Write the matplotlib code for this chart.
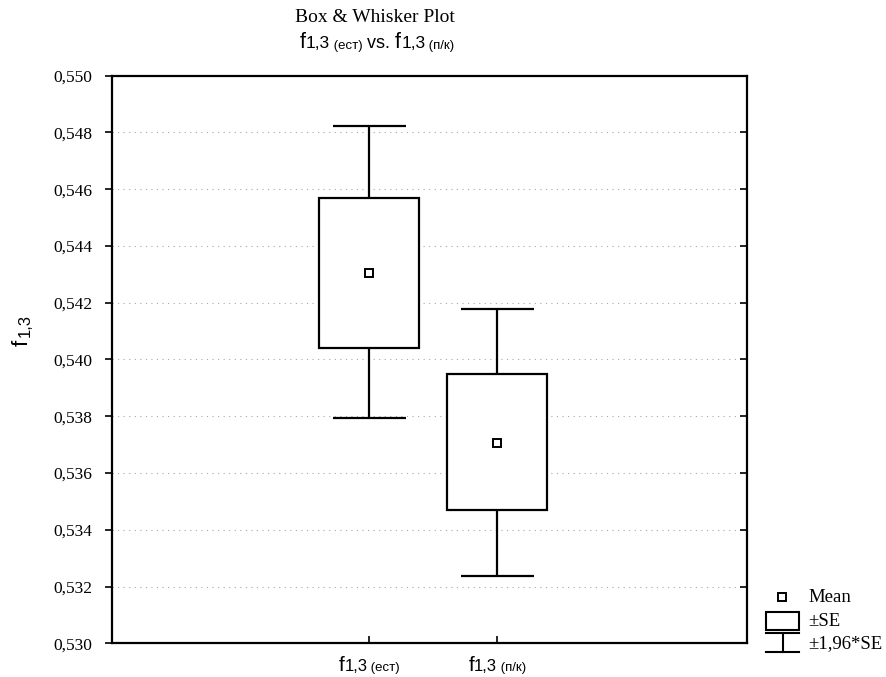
import matplotlib
matplotlib.use("Agg")
import matplotlib.pyplot as plt
from matplotlib.offsetbox import TextArea, HPacker, AnnotationBbox
from matplotlib.lines import Line2D
from matplotlib.patches import Rectangle

groups = ["ест", "п/к"]
means = [0.54306, 0.53705]
se_low = [0.54042, 0.53469]
se_high = [0.54570, 0.53948]
ci_low = [0.53794, 0.53238]
ci_high = [0.54824, 0.54178]
yticks = [0.530, 0.532, 0.534, 0.536, 0.538, 0.540, 0.542, 0.544, 0.546, 0.548, 0.550]

SERIF = "Liberation Serif"
SANS = "Liberation Sans"


def label_box(name, big=12, mid=9.5, small=7.5):
    parts = [TextArea("f", textprops=dict(fontfamily=SANS, fontsize=big)),
             TextArea("1,3", textprops=dict(fontfamily=SANS, fontsize=mid)),
             TextArea(" (" + name + ")", textprops=dict(fontfamily=SANS, fontsize=small))]
    return HPacker(children=parts, align="baseline", pad=0, sep=0)


fig = plt.figure(figsize=(8.87, 6.77), dpi=100)
ax = fig.add_axes([0.1263, 0.0498, 0.8422 - 0.1263, 0.8882 - 0.0498])

x = list(range(len(groups)))

ax.bar(x, [h - l for h, l in zip(se_high, se_low)], bottom=se_low, width=0.78,
       facecolor="white", edgecolor="black", linewidth=1.6, zorder=3)
ax.vlines(x, se_high, ci_high, color="black", linewidth=1.6, zorder=3)
ax.vlines(x, ci_low, se_low, color="black", linewidth=1.6, zorder=3)
ax.hlines(ci_high, [i - 0.285 for i in x], [i + 0.285 for i in x], color="black", linewidth=1.6, zorder=3)
ax.hlines(ci_low, [i - 0.285 for i in x], [i + 0.285 for i in x], color="black", linewidth=1.6, zorder=3)
ax.plot(x, means, linestyle="none", marker="s", markersize=6, markerfacecolor="white",
        markeredgecolor="black", markeredgewidth=1.4, zorder=4)

ax.set_xlim(-2.01, 2.95)
ax.set_ylim(0.530, 0.550)
ax.set_yticks(yticks)
ax.set_yticklabels([f"{v:.3f}".replace(".", ",") for v in yticks], fontfamily=SERIF, fontsize=12.5)
ax.tick_params(axis="y", direction="out", length=5, width=1.2, pad=9)
ax.set_xticks(x)
ax.set_xticklabels([])
ax.tick_params(axis="x", direction="in", length=5, width=1.2)
ax.tick_params(axis="y", which="major", right=True)
for t in ax.yaxis.get_major_ticks():
    t.tick2line.set_marker(matplotlib.lines.TICKLEFT)
    t.tick2line.set_markersize(5)

ax.grid(axis="y", linestyle=(0, (1, 4)), color="#a8a8a8", linewidth=0.8)
ax.set_axisbelow(True)
for s in ax.spines.values():
    s.set_linewidth(1.6)

for i, g in enumerate(groups):
    ab = AnnotationBbox(label_box(g, 15, 12, 9.5), (i, 0), xycoords=("data", "axes fraction"),
                        xybox=(0, -16), boxcoords="offset points", frameon=False,
                        box_alignment=(0.5, 0.5), annotation_clip=False)
    ax.add_artist(ab)

# titles
fig.text(375 / 887, 1 - 18 / 677, "Box & Whisker Plot", fontfamily=SERIF, fontsize=14,
         ha="center", va="center")
sub = HPacker(children=[label_box(groups[0], 15.5, 12.5, 9.5),
                        TextArea(" vs. ", textprops=dict(fontfamily=SANS, fontsize=13)),
                        label_box(groups[1], 15.5, 12.5, 9.5)],
              align="baseline", pad=0, sep=0)
fig.add_artist(AnnotationBbox(sub, (377 / 887, 1 - 43 / 677), xycoords="figure fraction",
                              frameon=False, box_alignment=(0.5, 0.5)))

# y label
fig.text(22 / 887, 1 - 343 / 677, "f", fontfamily=SANS, fontsize=16, rotation=90,
         ha="center", va="center")
fig.text(25 / 887, 1 - 326 / 677, "1,3", fontfamily=SANS, fontsize=12, rotation=90,
         ha="center", va="center")


# legend drawn outside the axes, in pixel positions
def px(xp, yp):
    return xp / 887, 1 - yp / 677


tr = fig.transFigure
mx, my = px(782, 597)
fig.add_artist(Line2D([mx], [my], transform=tr, marker="s", markersize=6, markerfacecolor="white",
                      markeredgecolor="black", markeredgewidth=1.4, linestyle="none"))
bx0, by0 = px(766, 630)
bx1, by1 = px(799, 612)
fig.add_artist(Rectangle((bx0, by0), bx1 - bx0, by1 - by0, transform=tr, facecolor="white",
                         edgecolor="black", linewidth=1.5))
for yy in (633, 652):
    a, b = px(766, yy)
    c, _ = px(799, yy)
    fig.add_artist(Line2D([a, c], [b, b], transform=tr, color="black", linewidth=1.5))
sx, sy0 = px(783, 633)
_, sy1 = px(783, 652)
fig.add_artist(Line2D([sx, sx], [sy0, sy1], transform=tr, color="black", linewidth=1.5))

for txt, yy in (("Mean", 598), ("±SE", 621), ("±1,96*SE", 644)):
    tx, ty = px(808, yy)
    fig.text(tx, ty, txt, fontfamily=SERIF, fontsize=13.5, ha="left", va="center")

fig.savefig("out.png", dpi=100)
